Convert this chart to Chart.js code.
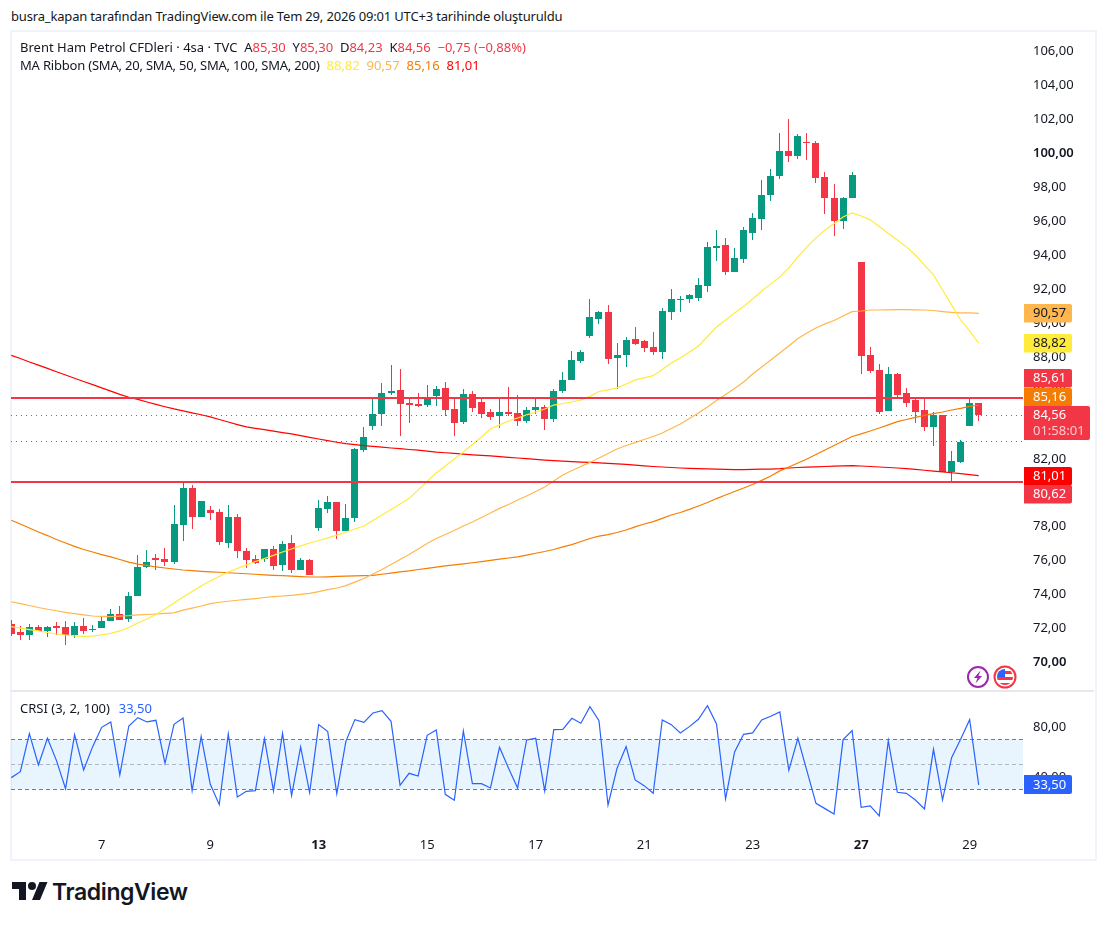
<!DOCTYPE html>
<html lang="tr">
<head>
<meta charset="utf-8">
<title>Brent Ham Petrol CFDleri</title>
<script src="https://cdn.jsdelivr.net/npm/chart.js@4"></script>
<style>
    html, body { margin: 0; padding: 0; background: #fff; }
    body { position: relative; width: 1106px; height: 925px; overflow: hidden; font-family: "Noto Sans", sans-serif; color: #131722; }
    .frame { position: absolute; left: 10px; top: 30px; width: 1083px; height: 827px; border: 2px solid #f0f3fa; }
    .sep { position: absolute; left: 11px; top: 690px; width: 1083px; height: 2px; background: #e6e8ee; }
    canvas { position: absolute; }
    #mainChart { left: 11px; top: 32px; }
    #crsiChart { left: 11px; top: 692px; }
    .txt { position: absolute; font-size: 13px; line-height: 18px; white-space: pre; }
    .red { color: #f23645; }
    .logo { position: absolute; left: 12px; top: 878px; width: 36px; height: 28px; }
    .brand { position: absolute; left: 52px; top: 876px; font: 600 23px/32px "Inter", sans-serif; color: #131722; letter-spacing: -0.4px; }
    .badges { position: absolute; left: 966px; top: 665px; }
</style>
</head>
<body>
<div class="txt" style="left:11px;top:7px;letter-spacing:-0.17px">busra_kapan tarafından TradingView.com ile Tem 29, 2026 09:01 UTC+3 tarihinde oluşturuldu</div>
<div class="frame"></div>
<canvas id="mainChart" width="1083" height="657"></canvas>
<div class="sep"></div>
<canvas id="crsiChart" width="1083" height="166"></canvas>
<div class="txt" style="left:20px;top:38px">Brent Ham Petrol CFDleri · 4sa · TVC  A<span class="red">85,30</span>  Y<span class="red">85,30</span>  D<span class="red">84,23</span>  K<span class="red">84,56</span>  <span class="red">−0,75 (−0,88%)</span></div>
<div class="txt" style="left:20px;top:56px"><span style="letter-spacing:-0.2px">MA Ribbon (SMA, 20, SMA, 50, SMA, 100, SMA, 200)</span>  <span style="color:#ffeb3b">88,82</span>  <span style="color:#ffb74d">90,57</span>  <span style="color:#f57c00">85,16</span>  <span style="color:#ff0000">81,01</span></div>
<div class="txt" style="left:20px;top:699px">CRSI (3, 2, 100)  <span style="color:#2962ff;margin-left:2px">33,50</span></div>
<svg class="badges" width="54" height="24" viewBox="0 0 54 24">
    <circle cx="12" cy="12" r="10" fill="#fff" stroke="#9c27b0" stroke-width="2"/>
    <path d="M14.5 5.5 8 13h3.5L9.5 18.5 16 11h-3.5z" fill="#9c27b0"/>
    <clipPath id="flag"><circle cx="39" cy="12" r="8"/></clipPath>
    <circle cx="39" cy="12" r="10.5" fill="#fff" stroke="#f23645" stroke-width="2"/>
    <g clip-path="url(#flag)">
        <rect x="30" y="3" width="18" height="18" fill="#fff"/>
        <rect x="30" y="6" width="18" height="3" fill="#f23645"/>
        <rect x="30" y="12" width="18" height="3" fill="#f23645"/>
        <rect x="30" y="18" width="18" height="3" fill="#f23645"/>
        <rect x="30" y="3" width="9" height="9" fill="#2962ff"/>
    </g>
</svg>
<svg class="logo" viewBox="0 0 36 28"><path fill="#131722" d="M14 22H7V11H0V4h14v18zM28 22h-8l7.5-18h8L28 22z"/><circle fill="#131722" cx="20" cy="8" r="4"/></svg>
<div class="brand">TradingView</div>

<script>
const opens = [72.27,71.80,71.64,72.09,71.88,72.15,72.09,71.64,72.15,71.92,72.03,72.45,72.86,72.56,73.92,75.63,76.16,76.10,75.92,78.10,
    80.28,78.57,78.99,78.87,77.04,78.57,76.57,76.10,76.10,76.69,75.75,77.04,75.45,76.04,77.93,79.05,79.46,77.75,78.52,82.52,
    83.94,84.64,85.88,86.06,85.29,85.23,85.17,85.70,86.18,84.94,84.17,85.82,85.35,84.76,84.53,84.76,84.70,84.23,84.88,85.06,
    84.35,86.00,86.65,87.77,89.24,90.24,90.65,87.94,88.12,89.06,88.95,88.59,88.30,90.65,91.36,91.42,91.48,92.19,94.43,94.60,
    93.01,93.78,95.31,96.13,97.55,98.67,100.14,99.85,100.67,100.61,98.61,97.37,96.02,97.37,93.60,88.12,87.24,84.82,87.00,85.88,
    85.47,84.88,83.88,84.59,81.23,81.82,83.94,85.30];
const highs = [72.50,72.15,72.27,72.21,72.15,72.39,72.45,72.39,72.62,72.21,72.74,73.15,73.33,74.15,76.33,76.63,76.39,76.75,79.28,80.58,
    80.46,79.52,79.22,79.05,79.28,78.75,76.75,76.33,76.69,76.87,77.16,77.51,76.16,76.10,79.58,79.81,79.46,79.34,82.64,83.88,
    85.65,86.47,87.53,87.30,85.53,85.88,86.35,86.29,86.53,85.53,86.12,86.00,85.53,84.94,85.65,86.23,85.76,85.06,85.53,85.17,
    86.12,87.12,88.36,88.42,91.42,90.71,91.07,88.83,89.18,89.77,89.00,89.48,90.89,92.01,91.60,91.72,92.66,94.78,95.49,95.02,
    94.43,95.66,96.49,98.43,99.08,101.20,102.03,101.14,101.20,100.73,98.91,98.20,97.43,98.91,93.60,88.59,87.59,87.41,87.06,86.18,
    85.53,85.59,84.76,84.59,82.46,83.11,85.65,85.30];
const lows = [71.56,71.33,71.33,71.88,71.50,71.64,71.03,71.44,71.68,71.80,72.03,72.45,72.50,72.39,73.92,75.57,75.45,75.69,75.80,77.16,
    77.87,78.57,78.40,76.92,76.75,76.16,75.57,75.80,75.92,75.45,75.39,75.27,75.45,75.16,77.75,78.81,77.28,77.75,78.28,82.40,
    83.70,83.94,85.76,83.35,84.11,85.06,85.06,85.12,84.53,83.35,84.05,84.76,84.41,84.29,83.82,84.53,83.94,84.11,84.64,83.70,
    84.17,85.88,86.65,87.65,89.12,89.95,87.59,86.12,87.41,88.71,88.30,88.12,87.89,90.18,90.65,91.18,91.30,91.83,93.66,92.84,
    93.01,93.54,94.90,95.49,97.20,98.49,99.49,99.67,99.61,98.26,96.43,95.13,95.55,97.37,87.00,87.06,84.64,84.82,85.59,85.06,
    84.11,83.64,82.76,81.23,80.70,81.76,83.94,84.23];
const closes = [71.68,71.64,72.09,71.88,72.09,72.03,71.64,72.15,71.88,71.95,72.45,72.86,72.50,73.92,75.63,75.92,76.04,75.92,78.16,80.28,
    78.57,79.52,78.81,77.10,78.57,76.57,76.04,75.86,76.69,75.69,76.98,75.45,76.04,75.16,79.10,79.46,77.75,78.52,82.58,83.29,
    84.64,85.88,86.00,85.23,85.17,85.12,85.65,86.12,84.88,84.11,85.82,85.00,84.64,84.47,84.76,84.64,84.23,84.88,85.06,84.35,
    86.00,86.65,87.83,88.30,90.36,90.65,87.89,88.12,89.00,88.77,88.53,88.30,90.71,91.42,91.42,91.66,92.25,94.48,94.54,93.01,
    93.84,95.49,96.19,97.55,98.67,100.14,99.85,101.03,100.61,98.55,97.37,96.02,97.37,98.73,88.06,87.18,84.76,87.00,85.76,85.29,
    84.76,83.88,84.59,81.23,81.87,82.99,85.29,84.56];

const ma20 = [72.11,72.03,71.94,71.86,71.77,71.68,71.62,71.57,71.54,71.56,71.63,71.72,71.86,72.06,72.33,72.56,72.83,73.15,73.51,73.86,
    74.18,74.51,74.80,75.07,75.33,75.54,75.75,75.95,76.13,76.31,76.51,76.69,76.87,77.04,77.19,77.34,77.51,77.69,77.87,78.04,
    78.37,78.69,79.02,79.34,79.66,80.17,80.67,81.17,81.58,81.99,82.40,82.85,83.29,83.76,84.00,84.23,84.41,84.59,84.76,84.94,
    85.17,85.26,85.35,85.47,85.68,85.97,86.06,86.18,86.41,86.65,86.77,86.90,87.27,87.65,87.94,88.30,88.65,89.21,89.77,90.18,
    90.60,90.98,91.42,91.89,92.31,92.72,93.25,93.90,94.49,95.02,95.49,95.87,96.25,96.49,96.31,96.08,95.69,95.28,94.90,94.49,
    94.01,93.42,92.84,91.95,91.07,90.18,89.54,88.82];
const ma50 = [73.58,73.47,73.36,73.24,73.14,73.05,72.95,72.88,72.81,72.74,72.72,72.70,72.73,72.76,72.81,72.83,72.86,72.89,72.93,73.09,
    73.21,73.33,73.47,73.55,73.61,73.67,73.72,73.77,73.83,73.88,73.92,73.96,74.01,74.07,74.18,74.29,74.39,74.53,74.74,74.95,
    75.22,75.48,75.78,76.07,76.36,76.69,77.01,77.31,77.54,77.78,78.04,78.28,78.54,78.81,79.08,79.31,79.58,79.81,80.08,80.34,
    80.70,81.05,81.31,81.55,81.79,82.05,82.32,82.58,82.79,82.96,83.14,83.32,83.52,83.79,84.05,84.38,84.70,85.06,85.44,85.79,
    86.15,86.53,87.00,87.41,87.83,88.24,88.65,89.09,89.42,89.71,89.95,90.15,90.42,90.67,90.71,90.77,90.77,90.78,90.79,90.79,
    90.78,90.77,90.74,90.68,90.63,90.60,90.60,90.57];
const ma100 = [78.38,78.16,77.93,77.69,77.48,77.25,77.04,76.84,76.66,76.51,76.36,76.22,76.07,75.92,75.80,75.72,75.63,75.57,75.51,75.45,
    75.41,75.37,75.34,75.32,75.29,75.26,75.23,75.20,75.17,75.14,75.12,75.09,75.06,75.04,75.04,75.05,75.07,75.09,75.10,75.12,
    75.13,75.20,75.27,75.34,75.40,75.48,75.55,75.62,75.69,75.75,75.81,75.88,75.95,76.02,76.09,76.16,76.23,76.33,76.44,76.54,
    76.66,76.81,76.95,77.13,77.31,77.45,77.54,77.66,77.81,77.99,78.16,78.30,78.49,78.69,78.84,79.02,79.22,79.43,79.66,79.87,
    80.08,80.28,80.49,80.73,80.99,81.29,81.52,81.76,81.99,82.26,82.52,82.79,83.05,83.32,83.47,83.64,83.82,84.00,84.19,84.32,
    84.44,84.56,84.67,84.76,84.88,84.97,85.09,85.16];
const ma200 = [88.10,87.91,87.71,87.52,87.33,87.13,86.94,86.75,86.56,86.37,86.18,85.99,85.80,85.63,85.50,85.35,85.21,85.07,84.94,84.83,
    84.71,84.60,84.47,84.32,84.17,84.02,83.88,83.80,83.72,83.63,83.55,83.47,83.37,83.27,83.17,83.07,82.98,82.90,82.84,82.78,
    82.73,82.69,82.64,82.60,82.55,82.51,82.46,82.40,82.36,82.32,82.28,82.24,82.21,82.17,82.13,82.09,82.05,82.01,81.97,81.93,
    81.90,81.87,81.84,81.81,81.79,81.76,81.73,81.70,81.67,81.63,81.59,81.55,81.52,81.49,81.46,81.44,81.43,81.41,81.39,81.38,
    81.37,81.37,81.38,81.39,81.40,81.42,81.46,81.49,81.51,81.53,81.55,81.57,81.59,81.60,81.58,81.55,81.52,81.49,81.46,81.42,
    81.38,81.33,81.28,81.23,81.18,81.13,81.07,81.01];
const crsi = [39.33,44.13,74.53,49.47,70.80,52.93,30.53,73.74,45.47,64.14,79.60,83.87,41.47,80.67,87.34,83.87,85.20,50.80,82.00,87.07,
    28.94,72.40,34.27,17.74,74.27,23.87,28.40,28.94,70.54,28.67,74.80,24.94,63.87,27.34,81.74,76.14,26.54,68.14,85.74,83.60,
    91.07,92.94,84.40,33.20,42.80,40.67,73.20,77.47,26.00,21.20,76.67,34.54,34.54,31.07,63.60,46.80,31.07,69.47,70.80,28.67,
    77.74,78.00,86.80,82.80,96.14,84.94,17.47,46.80,64.14,37.47,32.94,26.80,85.47,81.74,75.07,80.14,86.00,96.94,82.27,22.27,
    59.87,74.00,75.07,85.47,88.40,91.87,45.20,70.80,44.67,18.80,14.54,10.27,69.74,76.94,15.60,16.67,8.67,68.94,27.60,26.80,
    21.47,14.27,62.00,21.47,55.34,70.00,85.74,33.50];

const priceTicks = [70,72,74,76,78,80,82,84,86,88,90,92,94,96,98,100,102,104,106];
const crsiTicks = [40,80];
const dayTicks = [10,22,34,46,58,70,82,94,106];
const dayLabels = ['7','9','13','15','17','21','23','27','29'];
const boldDays = [34,94];
const solidLevels = [85.61,80.62];
const dottedLevels = [84.56,83.03];
const crsiBand = [30,50,70];

const UP = '#089981';
const DOWN = '#f23645';
const FONT = '"Noto Sans", sans-serif';
const AXIS_W = 71;

function comma(v) { return v.toFixed(2).replace('.', ','); }
function series(values) { return values.map((v, i) => ({ x: i, y: v })); }
// chart.js keeps room for half a label at the axis ends, the panes here run edge to edge
function fitAxis(scale) {
    scale.width = AXIS_W;
    scale.paddingTop = 0;
    scale.paddingBottom = 0;
}

// label on the price scale; nudge is how far TradingView pushed it to avoid an overlap
function drawTag(chart, value, nudge, fill, color, extra) {
    const { ctx, chartArea } = chart;
    const y = chart.scales.y.getPixelForValue(value) + nudge;
    const left = chartArea.right + 1;
    const w = extra ? 66 : 48;
    const top = Math.round(y - 9.5);
    ctx.save();
    ctx.fillStyle = fill;
    ctx.beginPath();
    ctx.roundRect(left, top, w, extra ? 34 : 18.5, [0, 2, 2, 0]);
    ctx.fill();
    ctx.font = '13px ' + FONT;
    ctx.textAlign = 'left';
    ctx.textBaseline = 'middle';
    ctx.fillStyle = color;
    ctx.fillText(comma(value), left + 9, top + 9.5);
    if (extra) {
        ctx.fillStyle = 'rgba(255,255,255,0.75)';
        ctx.fillText(extra, left + 9, top + 25);
    }
    ctx.restore();
}

// TradingView snaps candles to whole pixels
const snapCandles = {
    id: 'snapCandles',
    afterDatasetsUpdate(chart) {
        chart.getSortedVisibleDatasetMetas().forEach(meta => {
            if (meta.type !== 'bar') return;
            meta.data.forEach(el => {
                el.x = Math.round(el.x - 0.5) + 0.5;
                el.y = Math.round(el.y);
                el.base = Math.round(el.base);
                if (el.y === el.base) el.y -= 1;
            });
        });
    }
};

const priceLevels = {
    id: 'priceLevels',
    afterDatasetsDraw(chart) {
        const { ctx, chartArea, scales } = chart;
        ctx.save();
        ctx.strokeStyle = DOWN;
        ctx.lineWidth = 1;
        ctx.setLineDash([1, 4]);
        dottedLevels.forEach(v => {
            const y = Math.round(scales.y.getPixelForValue(v)) + 0.5;
            ctx.beginPath();
            ctx.moveTo(chartArea.left, y);
            ctx.lineTo(chartArea.right, y);
            ctx.stroke();
        });
        ctx.setLineDash([]);
        ctx.lineWidth = 2;
        solidLevels.forEach(v => {
            const y = Math.round(scales.y.getPixelForValue(v));
            ctx.beginPath();
            ctx.moveTo(chartArea.left, y);
            ctx.lineTo(chartArea.right, y);
            ctx.stroke();
        });
        ctx.restore();
    },
    afterDraw(chart) {
        drawTag(chart, 90.57, 0, '#ffb74d', '#131722');
        drawTag(chart, 88.82, 0, '#ffeb3b', '#131722');
        drawTag(chart, 85.61, -19, DOWN, '#fff');
        drawTag(chart, 85.16, -8, '#f57c00', '#fff');
        drawTag(chart, 84.56, 0, DOWN, '#fff', '01:58:01');
        drawTag(chart, 81.01, 0.5, '#ff0000', '#fff');
        drawTag(chart, 80.62, 12.5, DOWN, '#fff');
    }
};

const crsiDecor = {
    id: 'crsiDecor',
    beforeDatasetsDraw(chart) {
        const { ctx, chartArea, scales } = chart;
        const top = scales.y.getPixelForValue(crsiBand[2]);
        const bottom = scales.y.getPixelForValue(crsiBand[0]);
        ctx.save();
        ctx.fillStyle = 'rgba(33,150,243,0.1)';
        ctx.fillRect(chartArea.left, top, chartArea.width, bottom - top);
        ctx.lineWidth = 1;
        ctx.setLineDash([4, 3]);
        crsiBand.forEach(v => {
            const y = Math.round(scales.y.getPixelForValue(v)) + 0.5;
            ctx.strokeStyle = v === 50 ? 'rgba(120,123,134,0.5)' : '#787b86';
            ctx.beginPath();
            ctx.moveTo(chartArea.left, y);
            ctx.lineTo(chartArea.right, y);
            ctx.stroke();
        });
        ctx.restore();
    },
    afterDraw(chart) {
        const { ctx, chartArea, scales } = chart;
        const y = scales.y.getPixelForValue(33.5);
        ctx.save();
        ctx.fillStyle = '#2962ff';
        ctx.beginPath();
        ctx.roundRect(chartArea.right + 1, Math.round(y - 9.5), 48, 19, [0, 2, 2, 0]);
        ctx.fill();
        ctx.font = '13px ' + FONT;
        ctx.textAlign = 'left';
        ctx.textBaseline = 'middle';
        ctx.fillStyle = '#fff';
        ctx.fillText('33,50', chartArea.right + 10, y);
        ctx.restore();
    }
};

const xRange = { min: -0.033, max: 111.9 };

new Chart(document.getElementById('mainChart'), {
    type: 'bar',
    data: {
        datasets: [
            { type: 'line', data: series(ma20), borderColor: '#ffeb3b', borderWidth: 1.2, pointRadius: 0, order: 1 },
            { type: 'line', data: series(ma50), borderColor: '#ffb74d', borderWidth: 1.2, pointRadius: 0, order: 1 },
            { type: 'line', data: series(ma100), borderColor: '#f57c00', borderWidth: 1.2, pointRadius: 0, order: 1 },
            { type: 'line', data: series(ma200), borderColor: '#ff0000', borderWidth: 1.2, pointRadius: 0, order: 1 },
            {
                data: opens.map((o, i) => ({ x: i, y: [o, closes[i]] })),
                backgroundColor: opens.map((o, i) => closes[i] >= o ? UP : DOWN),
                barThickness: 7, grouped: false, inflateAmount: 0, order: 2
            },
            {
                data: lows.map((l, i) => ({ x: i, y: [l, highs[i]] })),
                backgroundColor: opens.map((o, i) => closes[i] >= o ? UP : DOWN),
                barThickness: 1, grouped: false, inflateAmount: 0, order: 3
            }
        ]
    },
    options: {
        responsive: false,
        animation: false,
        devicePixelRatio: 1,
        layout: { padding: 0 },
        plugins: { legend: { display: false }, tooltip: { enabled: false } },
        scales: {
            x: { type: 'linear', display: false, offset: false, min: xRange.min, max: xRange.max },
            y: {
                position: 'right', min: 68.44, max: 107.15,
                grid: { display: false, drawTicks: false }, border: { display: false },
                afterFit: fitAxis,
                afterBuildTicks(scale) { scale.ticks = priceTicks.map(v => ({ value: v })); },
                ticks: {
                    autoSkip: false, padding: 10, crossAlign: 'near', color: '#131722',
                    font: ctx => ({ family: FONT, size: 13, weight: ctx.tick && (ctx.tick.value === 100 || ctx.tick.value === 70) ? '600' : '400' }),
                    callback: v => comma(v)
                }
            }
        }
    },
    plugins: [snapCandles, priceLevels]
});

new Chart(document.getElementById('crsiChart'), {
    type: 'line',
    data: {
        datasets: [{ data: series(crsi), borderColor: '#2962ff', borderWidth: 1.2, pointRadius: 0, tension: 0 }]
    },
    options: {
        responsive: false,
        animation: false,
        devicePixelRatio: 1,
        layout: { padding: 0 },
        plugins: { legend: { display: false }, tooltip: { enabled: false } },
        scales: {
            x: {
                type: 'linear', min: xRange.min, max: xRange.max,
                grid: { display: false, drawTicks: false }, border: { display: false },
                afterFit(scale) { scale.height = 33; scale.paddingLeft = 0; scale.paddingRight = 0; },
                afterBuildTicks(scale) { scale.ticks = dayTicks.map(v => ({ value: v })); },
                ticks: {
                    autoSkip: false, maxRotation: 0, padding: 12, color: '#131722',
                    font: ctx => ({ family: FONT, size: 13, weight: ctx.tick && boldDays.includes(ctx.tick.value) ? '700' : '400' }),
                    callback: v => dayLabels[dayTicks.indexOf(v)]
                }
            },
            y: {
                position: 'right', min: 1.44, max: 107.84,
                grid: { display: false, drawTicks: false }, border: { display: false },
                afterFit: fitAxis,
                afterBuildTicks(scale) { scale.ticks = crsiTicks.map(v => ({ value: v })); },
                ticks: {
                    autoSkip: false, padding: 10, crossAlign: 'near', color: '#131722',
                    font: { family: FONT, size: 13 },
                    callback: v => comma(v)
                }
            }
        }
    },
    plugins: [crsiDecor]
});
</script>
</body>
</html>
